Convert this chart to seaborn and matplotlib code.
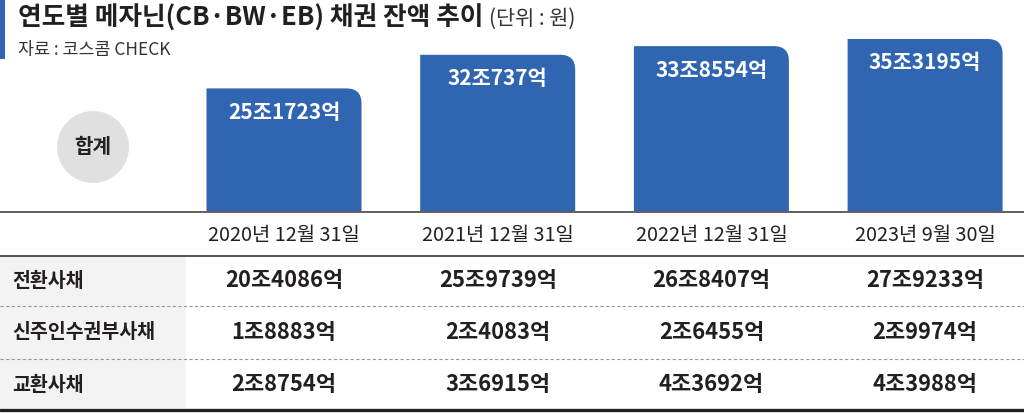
import numpy as np
import pandas as pd
import matplotlib
matplotlib.use("Agg")
import matplotlib.pyplot as plt
import seaborn as sns
from matplotlib.path import Path
from matplotlib.patches import PathPatch, Circle, Rectangle

# Data (단위: 억원)
dates = ["2020년 12월 31일", "2021년 12월 31일", "2022년 12월 31일", "2023년 9월 30일"]
totals = [251723, 320737, 338554, 353195]
row_names = ["전환사채", "신주인수권부사채", "교환사채"]
cb_values = [204086, 259739, 268407, 279233]
bw_values = [18883, 24083, 26455, 29974]
eb_values = [28754, 36915, 43692, 43988]

TITLE = "연도별 메자닌(CB·BW·EB) 채권 잔액 추이"
UNIT = "(단위 : 원)"
SOURCE = "자료 : 코스콤 CHECK"

BLUE = "#2f65b1"
DARK = "#231f20"


def fmt(v):
    return f"{v // 10000}조{v % 10000}억"


sns.set_theme(style="white")
plt.rcParams["font.family"] = ["Noto Sans CJK KR", "DejaVu Sans"]

W, H = 1024, 414
fig = plt.figure(figsize=(W / 100, H / 100), dpi=100)

# overlay in pixel coordinates for layout pieces
bg = fig.add_axes([0, 0, 1, 1], zorder=0)
bg.set_xlim(0, W)
bg.set_ylim(H, 0)
bg.axis("off")

# title block
bg.add_patch(Rectangle((0, 0), 5, 60, color=BLUE, lw=0))
t = bg.text(18, 18, TITLE, fontsize=18.5, fontweight="black", color=DARK, va="center", ha="left")
fig.canvas.draw()
bb = t.get_window_extent()
bg.text(bb.x1 + 6, 19, UNIT, fontsize=15, color="#333333", va="center", ha="left")
bg.text(18, 50, SOURCE, fontsize=12.5, color="#333333", va="center", ha="left")

# 합계 circle
bg.add_patch(Circle((93, 148), 36, color="#e0e0e0", lw=0))
bg.text(93, 147, "합계", fontsize=14.5, fontweight="bold", color="#222222", ha="center", va="center")

# table
bg.add_patch(Rectangle((0, 257), 186, 152, color="#f3f3f3", lw=0))
bg.plot([0, W], [213, 213], color="#444444", lw=1.2)
bg.plot([0, W], [256.5, 256.5], color="#333333", lw=1.2)
for yy in [307, 360]:
    bg.plot([0, W], [yy, yy], color="#999999", lw=0.8, ls=(0, (3, 2)))
bg.plot([0, W], [411, 411], color="#222222", lw=2.4)

# bar axes
step = 213.7
centers_px = [284 + i * step for i in range(len(dates))]
px_per_val = 4.87 / 10000  # pixels per 억
y0_px, y1_px = 212, 30
ax = fig.add_axes([0, (H - y0_px) / H, 1, (y0_px - y1_px) / H], zorder=1)
ax.patch.set_alpha(0)
df = pd.DataFrame({"date": dates, "total": totals})
sns.barplot(data=df, x="date", y="total", color=BLUE, saturation=1, width=155 / step, ax=ax)
ax.set_xlim(-centers_px[0] / step, len(dates) - 1 + (W - centers_px[-1]) / step)
ax.set_ylim(0, (y0_px - y1_px) / px_per_val)
ax.axis("off")

# rounded top-right corner
r = 15
rx = r / step
ry = r / px_per_val
for p in list(ax.patches):
    x0, yb, w, h = p.get_x(), p.get_y(), p.get_width(), p.get_height()
    verts = [(x0, yb), (x0 + w, yb), (x0 + w, yb + h - ry), (x0 + w, yb + h),
             (x0 + w - rx, yb + h), (x0, yb + h), (x0, yb)]
    codes = [Path.MOVETO, Path.LINETO, Path.LINETO, Path.CURVE3, Path.CURVE3,
             Path.LINETO, Path.CLOSEPOLY]
    p.set_visible(False)
    ax.add_patch(PathPatch(Path(verts, codes), facecolor=BLUE, lw=0))

for i, v in enumerate(totals):
    ax.annotate(fmt(v), (i, v), xytext=(0, -16.5), textcoords="offset points",
                ha="center", va="center", color="white", fontsize=15, fontweight="bold")

# date header and table values
for cx, d in zip(centers_px, dates):
    bg.text(cx, 236, d, fontsize=14.3, color=DARK, ha="center", va="center")

row_y = [281, 333, 385]
for name, vals, yy in zip(row_names, [cb_values, bw_values, eb_values], row_y):
    bg.text(12, yy, name, fontsize=14, fontweight="bold", color=DARK, ha="left", va="center")
    for cx, v in zip(centers_px, vals):
        bg.text(cx, yy, fmt(v), fontsize=15.8, fontweight="bold", color=DARK, ha="center", va="center")

fig.savefig("out.png", dpi=100)
